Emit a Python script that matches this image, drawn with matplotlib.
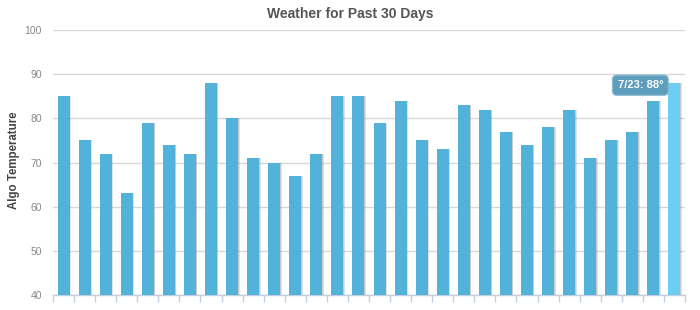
import numpy as np
import matplotlib
matplotlib.use("Agg")
import matplotlib.pyplot as plt

plt.rcParams['font.family'] = ['Liberation Sans', 'DejaVu Sans']

temps = [85, 75, 72, 63, 79, 74, 72, 88, 80, 71, 70, 67, 72, 85, 85,
         79, 84, 75, 73, 83, 82, 77, 74, 78, 82, 71, 75, 77, 84, 88]
yticks = [40, 50, 60, 70, 80, 90, 100]
tooltip_label = "7/23"

n = len(temps)
idx = np.arange(n)

fig = plt.figure(figsize=(7, 3.1), dpi=100)
ax = fig.add_axes([0.0757, 0.0484, 0.9029, 0.8548])

colors = ['#52b2d9'] * n
colors[-1] = '#6dcdf3'

# soft shadow to the right of each bar
ax.bar(idx + 0.07, temps, width=0.57, color='#888888', alpha=0.25, zorder=2)
ax.bar(idx + 0.035, temps, width=0.57, color='#888888', alpha=0.25, zorder=2)
ax.bar(idx, temps, width=0.57, color=colors, zorder=3)

ax.set_xlim(-0.5, n - 0.5)
ax.set_ylim(40, 100)
ax.set_yticks(yticks)
ax.yaxis.grid(True, color='#d8d8d8', linewidth=1)
ax.set_axisbelow(True)
ax.tick_params(axis='y', length=0, labelsize=7.5, labelcolor='#888888', pad=8)

ax.set_xticks(np.arange(n + 1) - 0.5)
ax.set_xticklabels([])
ax.tick_params(axis='x', direction='out', length=5, color='#c0d0e0', width=1)

for s in ['top', 'right', 'left']:
    ax.spines[s].set_visible(False)
ax.spines['bottom'].set_color('#c0d0e0')
ax.spines['bottom'].set_linewidth(1)

ax.set_ylabel('Algo Temperature', fontsize=8.3, fontweight='bold', color='#444444')
ax.yaxis.set_label_coords(-0.052, 0.51)
fig.suptitle('Weather for Past 30 Days', x=0.5, y=0.978, fontsize=10,
             fontweight='bold', color='#555555')

ax.text(idx[-1] - 1.62, temps[-1] - 0.5, f"{tooltip_label}: {temps[-1]}\u00b0",
        ha='center', va='center', fontsize=8, fontweight='bold', color='white',
        zorder=5,
        bbox=dict(boxstyle='round,pad=0.45,rounding_size=0.4', facecolor='#4d93b5',
                  edgecolor='#7fb5cf', alpha=0.9, linewidth=1))

fig.savefig('out.png', dpi=100)
